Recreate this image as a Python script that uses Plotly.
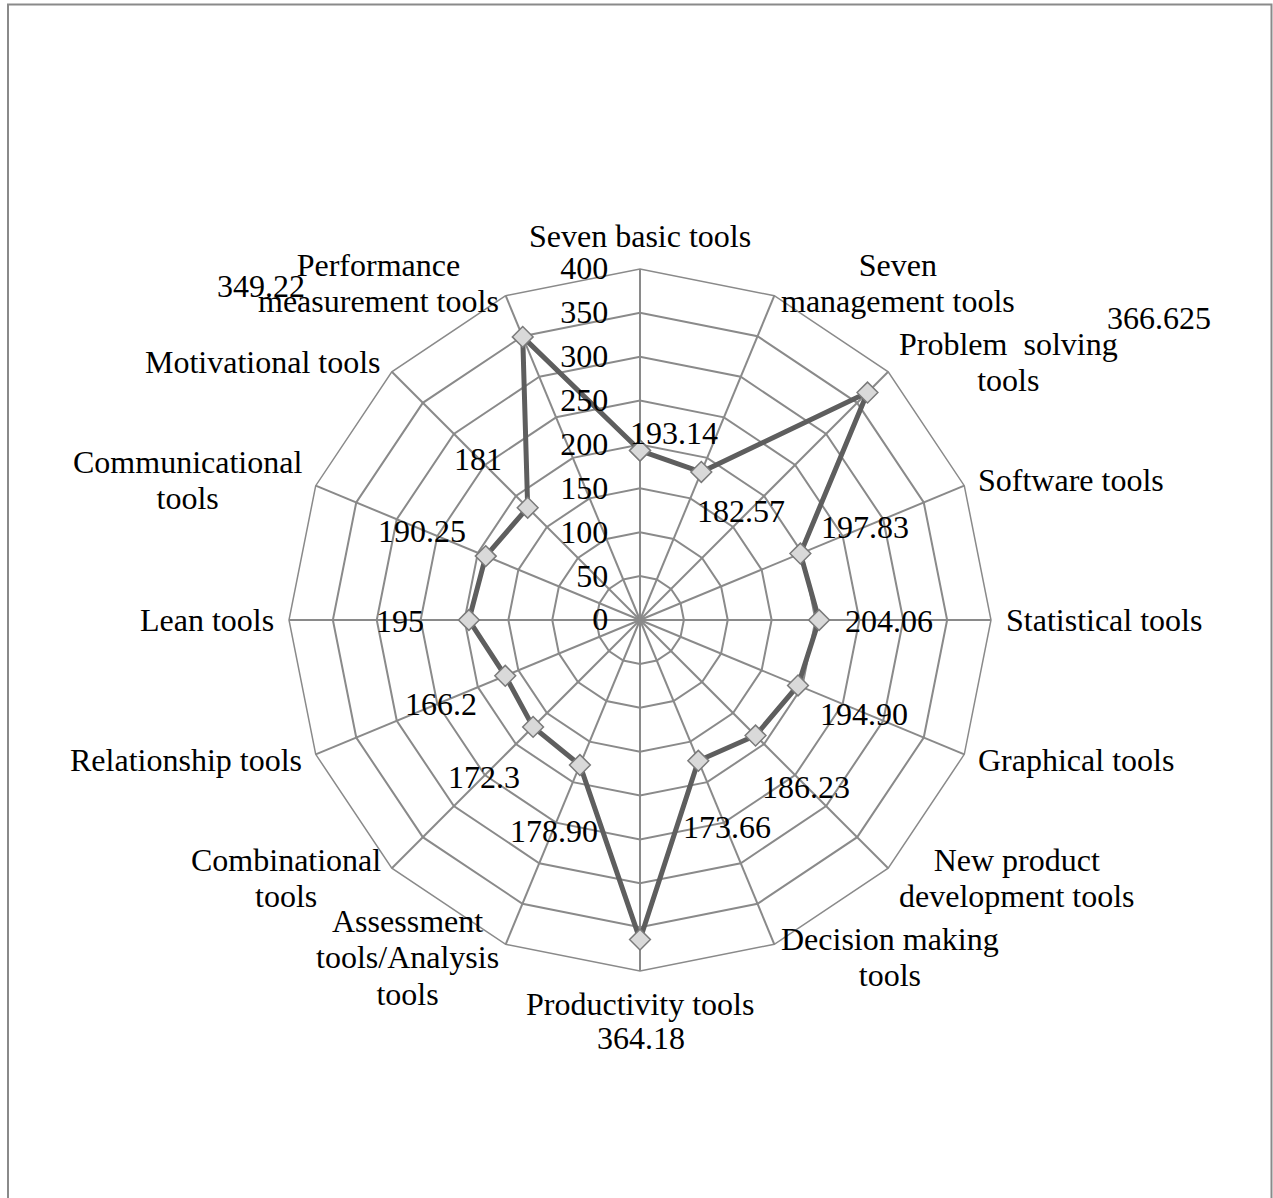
import math
import plotly.graph_objects as go

# Tool categories, clockwise from the top
categories = [
    "Seven basic tools",
    "Seven<br>management tools",
    "Problem  solving<br>tools",
    "Software tools",
    "Statistical tools",
    "Graphical tools",
    "New product<br>development tools",
    "Decision making<br>tools",
    "Productivity tools",
    "Assessment<br>tools/Analysis<br>tools",
    "Combinational<br>tools",
    "Relationship tools",
    "Lean tools",
    "Communicational<br>tools",
    "Motivational tools",
    "Performance<br>measurement tools",
]

# Score of each category
values = [193.14, 182.57, 366.625, 197.83, 204.06, 194.90, 186.23, 173.66,
          364.18, 178.90, 172.3, 166.2, 195, 190.25, 181, 349.22]

# Value labels as printed next to each point
value_labels = ["193.14", "182.57", "366.625", "197.83", "204.06", "194.90",
                "186.23", "173.66", "364.18", "178.90", "172.3", "166.2",
                "195", "190.25", "181", "349.22"]

radial_ticks = [0, 50, 100, 150, 200, 250, 300, 350, 400]

# Page / polar geometry (pixels)
W, H = 1273, 1198
CX, CY, RPX = 640, 620, 351
RMAX = 400
FONT = "Liberation Serif, Times New Roman, serif"
FS = 32
LINE_FS = 28  # base size that sets the line pitch of wrapped labels

# Offsets (px) of each value label from its point
label_offsets = [(34, -18), (40, 39), (292, -75), (65, -27), (70, 1), (66, 29),
                 (50, 51), (29, 66), (1, 98), (-26, 66), (-49, 50), (-64, 28),
                 (-69, 1), (-64, -25), (-50, -49), (-262, -51)]

n = len(categories)
angles = [i * 360.0 / n for i in range(n)]
theta_keys = [c.replace("<br>", " ") for c in categories]


def to_paper(px, py):
    return px / W, 1 - py / H


def polar_px(r, ang):
    a = math.radians(ang)
    rp = r / RMAX * RPX
    return CX + rp * math.sin(a), CY - rp * math.cos(a)


fig = go.Figure()
fig.add_trace(go.Scatterpolar(
    r=values + values[:1],
    theta=theta_keys + theta_keys[:1],
    mode="lines+markers",
    line=dict(color="#5e5e5e", width=5),
    marker=dict(symbol="diamond", size=16, color="#d9d9d9",
                line=dict(color="#7a7a7a", width=1.5)),
    showlegend=False,
    hoverinfo="skip",
))

annotations = []
# Category labels just outside the outer ring
for cat, ang in zip(categories, angles):
    s, c = math.sin(math.radians(ang)), math.cos(math.radians(ang))
    ax, ay = CX + 365 * s, CY - 365 * c
    if abs(s) < 0.01:
        xanchor = "center"
        yanchor = "bottom" if c > 0 else "top"
    else:
        xanchor = "left" if s > 0 else "right"
        yanchor = "middle"
    x, y = to_paper(ax, ay)
    text = "<br>".join(f"<span style='font-size:{FS}px'>{part}</span>"
                       for part in cat.split("<br>"))
    annotations.append(dict(x=x, y=y, xref="paper", yref="paper", text=text,
                            showarrow=False, xanchor=xanchor, yanchor=yanchor,
                            align="center", borderpad=0,
                            font=dict(family=FONT, size=LINE_FS, color="black")))

# Value labels
for v, txt, ang, (dx, dy) in zip(values, value_labels, angles, label_offsets):
    px, py = polar_px(v, ang)
    x, y = to_paper(px + dx, py + dy)
    annotations.append(dict(x=x, y=y, xref="paper", yref="paper", text=txt,
                            showarrow=False, xanchor="center", yanchor="middle",
                            borderpad=0,
                            font=dict(family=FONT, size=FS, color="black")))

# Outer frame
shapes = [dict(type="rect", xref="paper", yref="paper",
               x0=8 / W, x1=1271.5 / W, y0=-0.05, y1=1 - 4.5 / H,
               line=dict(color="#8a8a8a", width=2), fillcolor="rgba(0,0,0,0)")]

grid = "#8a8a8a"
fig.update_layout(
    width=W, height=H,
    margin=dict(l=0, r=0, t=0, b=0),
    paper_bgcolor="white",
    plot_bgcolor="white",
    showlegend=False,
    annotations=annotations,
    shapes=shapes,
    polar=dict(
        domain=dict(x=[(CX - RPX) / W, (CX + RPX) / W],
                    y=[1 - (CY + RPX) / H, 1 - (CY - RPX) / H]),
        gridshape="linear",
        bgcolor="white",
        radialaxis=dict(
            range=[0, RMAX], tickvals=radial_ticks,
            ticktext=[str(t) for t in radial_ticks],
            angle=90, side="counterclockwise",
            showline=False, gridcolor=grid, gridwidth=1.5,
            ticks="outside", ticklen=20, tickcolor="rgba(0,0,0,0)",
            tickfont=dict(family=FONT, size=FS, color="black"),
            tickangle=90,
        ),
        angularaxis=dict(
            type="category", categoryarray=theta_keys,
            rotation=90, direction="clockwise",
            showticklabels=False, ticks="",
            showline=True, linecolor=grid, linewidth=1.5,
            gridcolor=grid, gridwidth=1.5,
        ),
    ),
    font=dict(family=FONT, size=FS, color="black"),
)

fig.write_html("out.html")
